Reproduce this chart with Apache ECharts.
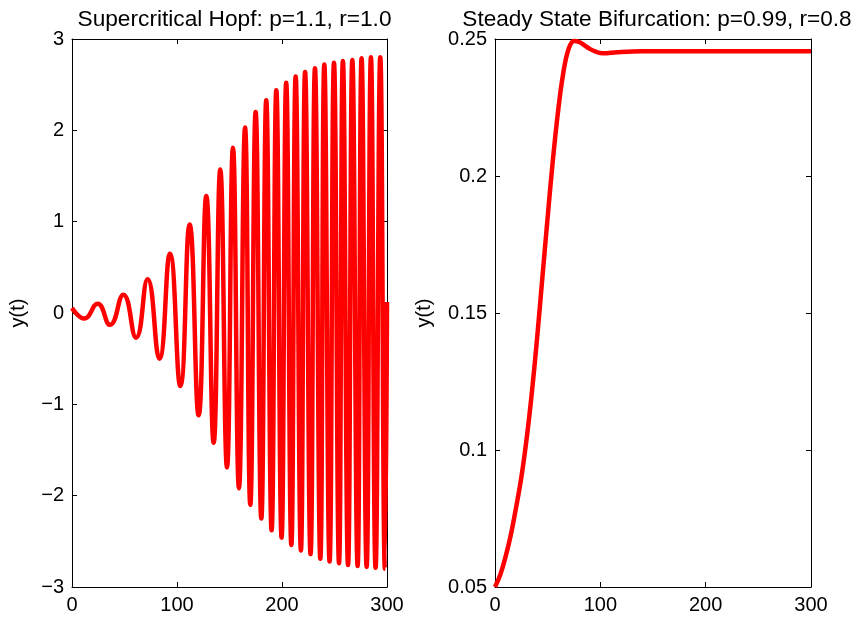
<!DOCTYPE html>
<html>
<head>
<meta charset="utf-8">
<script src="https://cdn.jsdelivr.net/npm/echarts@6/dist/echarts.min.js"></script>
<style>html,body{margin:0;padding:0;background:#fff}#c{width:858px;height:617px}</style>
</head>
<body>
<div id="c"></div>
<script>
// Left panel: Supercritical Hopf (extrema)
const hopfT = [0, 11.7, 24.4, 36.2, 48.9, 61, 72, 83.2, 93.3, 103.2, 112, 120.6, 127.9, 134.9, 141.2, 147.6, 153.3, 159, 164.8, 169.8, 174.9, 180.3, 185, 190.1, 194.6, 199.6, 204, 208.9, 213, 218, 222, 227.2, 231.4, 236.5, 240.3, 245.3, 249.5, 254.3, 258, 262.9, 267, 272, 275.8, 280.6, 284.7, 289.1, 293.6, 298, 300];
const hopfY = [0.055, -0.06, 0.10, -0.13, 0.20, -0.27, 0.37, -0.50, 0.65, -0.80, 0.97, -1.12, 1.28, -1.42, 1.57, -1.69, 1.81, -1.92, 2.03, -2.10, 2.20, -2.25, 2.33, -2.38, 2.44, -2.46, 2.52, -2.54, 2.59, -2.60, 2.64, -2.64, 2.68, -2.69, 2.72, -2.72, 2.74, -2.74, 2.76, -2.76, 2.77, -2.77, 2.79, -2.78, 2.80, -2.79, 2.80, -2.80, 0.12];
// Right panel: Steady State Bifurcation
const steadyT = [0, 5, 10, 15, 20, 25, 30, 35, 40, 45, 50, 55, 60, 65, 70, 75, 80, 85, 90, 95, 100, 105, 110, 120, 140, 200, 300];
const steadyY = [0.05, 0.0545, 0.061, 0.069, 0.079, 0.090, 0.104, 0.121, 0.141, 0.163, 0.185, 0.206, 0.224, 0.238, 0.2465, 0.2493, 0.2489, 0.2477, 0.2464, 0.2455, 0.2449, 0.2448, 0.2450, 0.2453, 0.2455, 0.2455, 0.2455];
const xTicks = [0, 300, 100];
const hopfYAxis = [-3, 3, 1];
const steadyYAxis = [0.05, 0.25, 0.05];
const titles = ['Supercritical Hopf: p=1.1, r=1.0', 'Steady State Bifurcation: p=0.99, r=0.8'];
const yName = 'y(t)';

const FONT = 'Liberation Sans, Arial, Helvetica, sans-serif';
const zip = (a, b) => a.map((v, i) => [v, b[i]]);
const minus = s => String(s).replace('-', '\u2212');

function xAx(gi, pos, labels) {
  return {
    type: 'value', gridIndex: gi, position: pos, min: xTicks[0], max: xTicks[1], interval: xTicks[2],
    axisLine: {show: true, onZero: false, lineStyle: {color: '#000', width: 1}},
    axisTick: {show: true, inside: true, length: 5, lineStyle: {color: '#000'}},
    axisLabel: {show: labels, color: '#000', fontSize: 20, fontFamily: FONT, margin: 8},
    splitLine: {show: false}
  };
}
function yAx(gi, pos, labels, r, fmt, gap) {
  return {
    type: 'value', gridIndex: gi, position: pos, min: r[0], max: r[1], interval: r[2],
    name: labels ? yName : '', nameLocation: 'middle', nameGap: gap,
    nameTextStyle: {color: '#000', fontSize: 20, fontFamily: FONT},
    axisLine: {show: true, onZero: false, lineStyle: {color: '#000', width: 1}},
    axisTick: {show: true, inside: true, length: 5, lineStyle: {color: '#000'}},
    axisLabel: {show: labels, color: '#000', fontSize: 20, fontFamily: FONT, margin: 8, formatter: fmt},
    splitLine: {show: false}
  };
}

const chart = echarts.init(document.getElementById('c'), null, {renderer: 'canvas'});
chart.setOption({
  animation: false,
  backgroundColor: '#fff',
  title: [
    {text: titles[0], left: 229.5, top: 3, textAlign: 'center', textStyle: {fontSize: 22.7, fontWeight: 'normal', color: '#000', fontFamily: FONT}},
    {text: titles[1], left: 652, top: 3, textAlign: 'center', textStyle: {fontSize: 22.6, fontWeight: 'normal', color: '#000', fontFamily: FONT}}
  ],
  grid: [
    {left: 72, top: 39, width: 315, height: 548},
    {left: 495, top: 39, width: 316, height: 548}
  ],
  xAxis: [xAx(0, 'bottom', true), xAx(0, 'top', false), xAx(1, 'bottom', true), xAx(1, 'top', false)],
  yAxis: [
    yAx(0, 'left', true, hopfYAxis, v => minus(v), 44),
    yAx(0, 'right', false, hopfYAxis, null, 0),
    yAx(1, 'left', true, steadyYAxis, v => String(+v.toFixed(2)), 61),
    yAx(1, 'right', false, steadyYAxis, null, 0)
  ],
  series: [
    {type: 'line', xAxisIndex: 0, yAxisIndex: 0, data: zip(hopfT, hopfY), smooth: 0.5, showSymbol: false,
     lineStyle: {color: '#ff0000', width: 4.5}, clip: true},
    {type: 'line', xAxisIndex: 2, yAxisIndex: 2, data: zip(steadyT, steadyY), smooth: 0.4, showSymbol: false,
     lineStyle: {color: '#ff0000', width: 4.5}, clip: true}
  ]
});
</script>
</body>
</html>
